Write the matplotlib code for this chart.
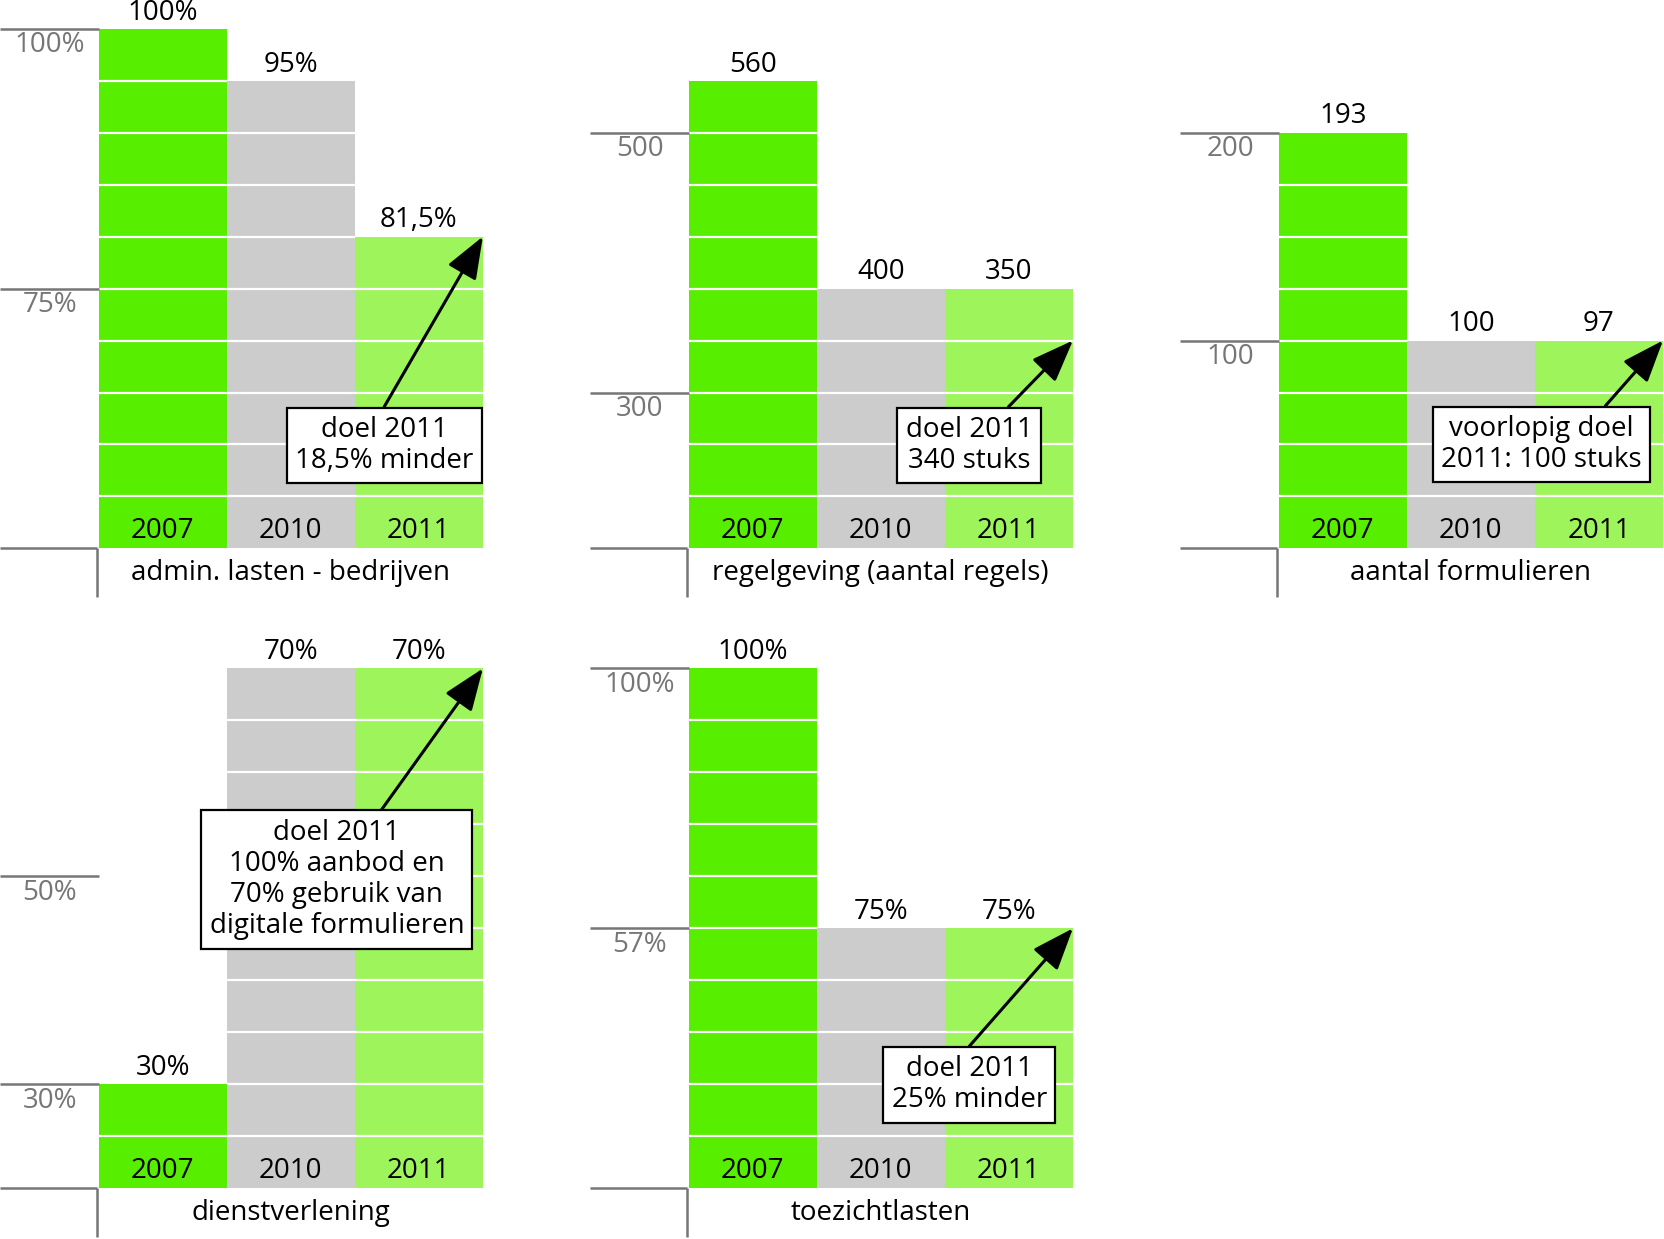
import matplotlib
matplotlib.use('Agg')
import matplotlib.pyplot as plt

plt.rcParams['font.family'] = ['Open Sans', 'DejaVu Sans']

years = ['2007', '2010', '2011']
bar_colors = ['#57ee00', '#cccccc', '#9df55b']
tick_gray = '#767676'

titles = ['admin. lasten - bedrijven', 'regelgeving (aantal regels)',
          'aantal formulieren', 'dienstverlening', 'toezichtlasten']

# bar heights in blocks, as drawn in the graphic
admin_blocks = [10, 9, 6]
regels_blocks = [9, 5, 5]
formulieren_blocks = [8, 4, 4]
dienst_blocks = [2, 10, 10]
toezicht_blocks = [10, 5, 5]

admin_values = ['100%', '95%', '81,5%']
regels_values = ['560', '400', '350']
formulieren_values = ['193', '100', '97']
dienst_values = ['30%', '70%', '70%']
toezicht_values = ['100%', '75%', '75%']

admin_ticks, admin_ticklabels = [10, 5], ['100%', '75%']
regels_ticks, regels_ticklabels = [8, 3], ['500', '300']
formulieren_ticks, formulieren_ticklabels = [8, 4], ['200', '100']
dienst_ticks, dienst_ticklabels = [6, 2], ['50%', '30%']
toezicht_ticks, toezicht_ticklabels = [10, 5], ['100%', '57%']

goals = ['doel 2011\n18,5% minder',
         'doel 2011\n340 stuks',
         'voorlopig doel\n2011: 100 stuks',
         'doel 2011\n100% aanbod en\n70% gebruik van\ndigitale formulieren',
         'doel 2011\n25% minder']
goal_tips = [6, 4, 4, 10, 5]

blocks = [admin_blocks, regels_blocks, formulieren_blocks, dienst_blocks, toezicht_blocks]
values = [admin_values, regels_values, formulieren_values, dienst_values, toezicht_values]
ticks = [admin_ticks, regels_ticks, formulieren_ticks, dienst_ticks, toezicht_ticks]
ticklabels = [admin_ticklabels, regels_ticklabels, formulieren_ticklabels,
              dienst_ticklabels, toezicht_ticklabels]

# layout: axes rects (figure fractions), goal box centres and arrow start
W, H = 1568.0, 1168.0
ax_w = 455 / W
ax_h = 563.5 / H
rects = [(0.0, 0.5154), (556 / W, 0.5154), (1112 / W, 0.5154),
         (0.0, -0.001), (556 / W, -0.001)]
box_pos = [(1.73, 1.98), (1.69, 1.98), (1.55, 2.0), (1.36, 5.94), (1.69, 1.99)]
box_rel = [0.47, 0.74, 0.78, 0.65, 0.45]

fs = 20
fig = plt.figure(figsize=(16.64, 12.39), dpi=100)

for p in range(5):
    ax = fig.add_axes([rects[p][0], rects[p][1], ax_w, ax_h])
    ax.set_xlim(-1.27, 2.5)
    ax.set_ylim(-1, 10.5)
    ax.axis('off')

    ax.bar(range(3), blocks[p], width=1.0, color=bar_colors, linewidth=0, zorder=1)
    for i, n in enumerate(blocks[p]):
        ax.hlines(range(1, n), i - 0.5, i + 0.5, color='white', lw=1.6, zorder=2)
        ax.text(i, n + 0.31, values[p][i], ha='center', va='center', fontsize=fs)
        ax.text(i, 0.33, years[i], ha='center', va='center', fontsize=fs, zorder=3)

    # left scale marks
    ax.hlines(ticks[p], -1.27, -0.5, color=tick_gray, lw=1.8)
    for t, lab in zip(ticks[p], ticklabels[p]):
        ax.text(-0.88, t - 0.32, lab, ha='center', va='center', fontsize=fs,
                color=tick_gray)
    ax.hlines(0, -1.27, -0.515, color=tick_gray, lw=1.8)
    ax.vlines(-0.515, -0.94, 0, color=tick_gray, lw=1.8)

    ax.text(1, -0.47, titles[p], ha='center', va='center', fontsize=fs)

    ax.annotate(goals[p], xy=(2.5, goal_tips[p]), xytext=box_pos[p],
                ha='center', va='center', fontsize=fs, zorder=5, linespacing=1.15,
                bbox=dict(boxstyle='square,pad=0.3', fc='white', ec='black', lw=1.6),
                arrowprops=dict(arrowstyle='-|>,head_length=1.3,head_width=0.5',
                                color='black', lw=2.2, relpos=(box_rel[p], 1.0),
                                shrinkA=0, shrinkB=0, mutation_scale=20),
                annotation_clip=False)

fig.savefig('out.png', dpi=100)
